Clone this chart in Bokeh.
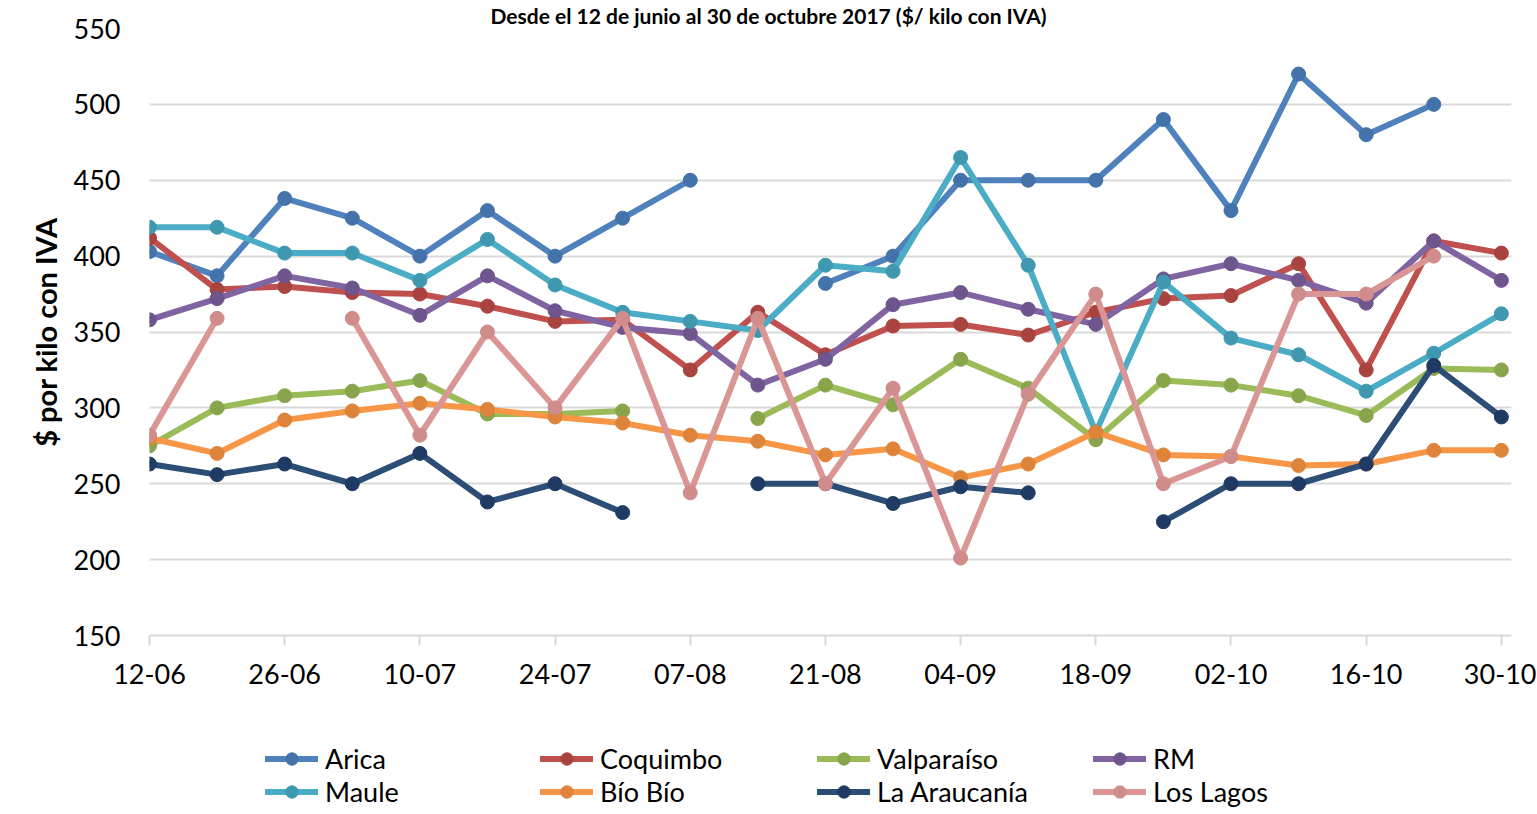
import numpy as np
from bokeh.plotting import figure
from bokeh.layouts import column
from bokeh.models import Range1d, FixedTicker, Legend, LegendItem
from bokeh.embed import file_html
from bokeh.resources import INLINE

# ---------------- data ----------------
weeks = ["12-06", "19-06", "26-06", "03-07", "10-07", "17-07", "24-07", "31-07",
         "07-08", "14-08", "21-08", "28-08", "04-09", "11-09", "18-09", "25-09",
         "02-10", "09-10", "16-10", "23-10", "30-10"]

arica = [403, 387, 438, 425, 400, 430, 400, 425, 450, None, 382, 400, 450, 450,
         450, 490, 430, 520, 480, 500, None]
coquimbo = [412, 378, 380, 376, 375, 367, 357, 358, 325, 363, 335, 354, 355, 348,
            363, 372, 374, 395, 325, 410, 402]
valparaiso = [275, 300, 308, 311, 318, 296, 296, 298, None, 293, 315, 302, 332, 313,
              279, 318, 315, 308, 295, 326, 325]
rm = [358, 372, 387, 379, 361, 387, 364, 353, 349, 315, 332, 368, 376, 365,
      355, 385, 395, 384, 369, 410, 384]
maule = [419, 419, 402, 402, 384, 411, 381, 363, 357, 351, 394, 390, 465, 394,
         284, 383, 346, 335, 311, 336, 362]
biobio = [280, 270, 292, 298, 303, 299, 294, 290, 282, 278, 269, 273, 254, 263,
          284, 269, 268, 262, 263, 272, 272]
araucania = [263, 256, 263, 250, 270, 238, 250, 231, None, 250, 250, 237, 248, 244,
             None, 225, 250, 250, 263, 328, 294]
loslagos = [282, 359, None, 359, 282, 350, 300, 359, 244, 359, 250, 313, 201, 309,
            375, 250, 268, 375, 375, 400, None]

series_names = ["Arica", "Coquimbo", "Valparaíso", "RM",
                "Maule", "Bío Bío", "La Araucanía", "Los Lagos"]
series_values = [arica, coquimbo, valparaiso, rm, maule, biobio, araucania, loslagos]
line_colors = ["#4F81BD", "#C0504D", "#9BBB59", "#8064A2",
               "#4BACC6", "#F79646", "#2C4D75", "#D99694"]
marker_colors = ["#4373AA", "#A9433F", "#88A54B", "#6E558E",
                 "#3F98B0", "#DD843A", "#1F3B63", "#D08C8A"]

y_ticks = [150, 200, 250, 300, 350, 400, 450, 500, 550]
title_text = "Desde el 12 de junio al 30 de octubre 2017 ($/ kilo con IVA)"
y_label = "$ por kilo con IVA"

# ---------------- main figure ----------------
W = 1536
H_MAIN = 700
FRAME_LEFT, FRAME_RIGHT, FRAME_TOP, FRAME_BOTTOM = 149, 1511, 28, 635

x = list(range(len(weeks)))
p = figure(width=W, height=H_MAIN, output_backend="svg", toolbar_location=None,
           x_range=Range1d(0, len(weeks) - 1 + 0.15), y_range=Range1d(150, 550),
           min_border_left=FRAME_LEFT, min_border_right=W - FRAME_RIGHT,
           min_border_top=FRAME_TOP, min_border_bottom=H_MAIN - FRAME_BOTTOM)
p.outline_line_color = None
p.background_fill_color = "white"
p.border_fill_color = "white"

p.title.text = title_text
p.title.align = "left"
p.title.offset = 341
p.title.standoff = 1
p.title.text_font = "Lato"
p.title.text_font_style = "bold"
p.title.text_font_size = "21px"
p.title.text_color = "#000000"

p.xgrid.visible = False
p.ygrid.grid_line_color = "#D9D9D9"
p.ygrid.grid_line_width = 2
p.ygrid.ticker = FixedTicker(ticks=y_ticks)

p.yaxis.ticker = FixedTicker(ticks=y_ticks)
p.yaxis.axis_line_color = None
p.yaxis.major_tick_line_color = None
p.yaxis.major_tick_out = 0
p.yaxis.major_tick_in = 0
p.yaxis.minor_tick_line_color = None
p.yaxis.major_label_standoff = 29
p.yaxis.major_label_text_font = "Lato"
p.yaxis.major_label_text_font_size = "27px"
p.yaxis.major_label_text_color = "#000000"
p.yaxis.axis_label = y_label
p.yaxis.axis_label_text_font = "Lato"
p.yaxis.axis_label_text_font_style = "bold"
p.yaxis.axis_label_text_font_size = "29px"
p.yaxis.axis_label_text_color = "#000000"
p.yaxis.axis_label_standoff = 8

tick_idx = list(range(0, len(weeks), 2))
p.xaxis.ticker = FixedTicker(ticks=tick_idx)
p.xaxis.major_label_overrides = {i: weeks[i] for i in tick_idx}
p.xaxis.axis_line_color = "#D9D9D9"
p.xaxis.axis_line_width = 2
p.xaxis.major_tick_line_color = "#D9D9D9"
p.xaxis.major_tick_line_width = 2
p.xaxis.major_tick_in = 0
p.xaxis.major_tick_out = 10
p.xaxis.minor_tick_line_color = None
p.xaxis.major_label_standoff = 18
p.xaxis.major_label_text_font = "Lato"
p.xaxis.major_label_text_font_size = "27px"
p.xaxis.major_label_text_color = "#000000"

for name, vals, lc, mc in zip(series_names, series_values, line_colors, marker_colors):
    ys = np.array([np.nan if v is None else v for v in vals], dtype=float)
    p.line(x, ys, line_color=lc, line_width=6, line_join="round", line_cap="round")
    p.scatter(x, ys, size=14, fill_color=mc, line_color=mc, line_width=1)

# ---------------- legend strip ----------------
H_LEG = 113
lf = figure(width=W, height=H_LEG, output_backend="svg", toolbar_location=None,
            x_range=Range1d(-1000, -999), y_range=Range1d(-1000, -999), min_border=0)
lf.axis.visible = False
lf.grid.visible = False
lf.outline_line_color = None

leg_renderers = []
for name, vals, lc, mc in zip(series_names, series_values, line_colors, marker_colors):
    ys = np.array([np.nan if v is None else v for v in vals], dtype=float)
    lr = lf.line(x, ys, line_color=lc, line_width=6, line_cap="round")
    sr = lf.scatter(x, ys, size=14, fill_color=mc, line_color=mc, line_width=1)
    leg_renderers.append((lr, sr))

col_x = [116, 391, 668, 944]
for k in range(4):
    items = [LegendItem(label=series_names[j], renderers=list(leg_renderers[j]))
             for j in (k, k + 4)]
    leg = Legend(items=items, location=(col_x[k], 5), orientation="vertical",
                 padding=0, margin=0, spacing=0, border_line_color=None,
                 background_fill_alpha=0, glyph_width=53, glyph_height=31,
                 label_height=31, label_standoff=7, label_text_font="Lato",
                 label_text_font_size="27px", label_text_color="#000000")
    lf.add_layout(leg, "center")

layout = column(p, lf, spacing=0)
open("out.html", "w").write(file_html(layout, INLINE))
